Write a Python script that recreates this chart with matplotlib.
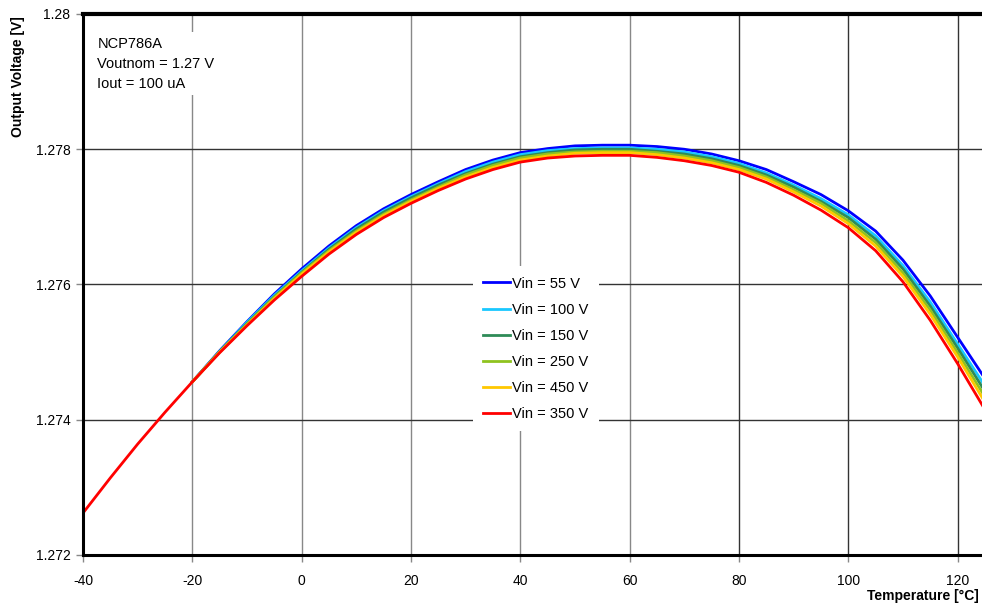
import matplotlib
matplotlib.use("Agg")
import matplotlib.pyplot as plt

plt.rcParams['font.family'] = ['Liberation Sans', 'DejaVu Sans']
plt.rcParams['axes.unicode_minus'] = False

# temperature points (deg C)
temp = [-20, -15, -10, -5, 0, 5, 10, 15, 20, 25, 30, 35, 40, 45, 50, 55, 60, 65, 70, 75,
        80, 85, 90, 95, 100, 105, 110, 115, 120, 125]
temp_red = [-40, -35, -30, -25] + temp

# output voltage for each input voltage (V)
v55 = [1.27456, 1.27502, 1.27545, 1.27586, 1.27623, 1.27657, 1.27687, 1.27712, 1.27733, 1.27752,
       1.27770, 1.27784, 1.27795, 1.27801, 1.27805, 1.27806, 1.27806, 1.27804, 1.27800, 1.27793,
       1.27783, 1.27770, 1.27752, 1.27733, 1.27709, 1.27679, 1.27636, 1.27583, 1.27522, 1.27461]
v100 = [1.27456, 1.27501, 1.27544, 1.27584, 1.27620, 1.27654, 1.27684, 1.27709, 1.27730, 1.27749,
        1.27767, 1.27781, 1.27792, 1.27798, 1.27801, 1.27802, 1.27802, 1.27800, 1.27796, 1.27789,
        1.27779, 1.27765, 1.27747, 1.27727, 1.27703, 1.27672, 1.27628, 1.27574, 1.27512, 1.27450]
v150 = [1.27456, 1.27501, 1.27542, 1.27582, 1.27618, 1.27652, 1.27682, 1.27707, 1.27728, 1.27747,
        1.27764, 1.27778, 1.27789, 1.27795, 1.27799, 1.27800, 1.27800, 1.27797, 1.27793, 1.27786,
        1.27776, 1.27762, 1.27744, 1.27723, 1.27699, 1.27667, 1.27623, 1.27568, 1.27506, 1.27442]
v250 = [1.27456, 1.27500, 1.27541, 1.27581, 1.27617, 1.27650, 1.27679, 1.27704, 1.27725, 1.27744,
        1.27762, 1.27776, 1.27787, 1.27793, 1.27796, 1.27797, 1.27797, 1.27795, 1.27790, 1.27783,
        1.27773, 1.27759, 1.27740, 1.27720, 1.27694, 1.27662, 1.27617, 1.27562, 1.27499, 1.27434]
v450 = [1.27456, 1.27500, 1.27540, 1.27579, 1.27615, 1.27648, 1.27677, 1.27702, 1.27723, 1.27742,
        1.27759, 1.27773, 1.27784, 1.27790, 1.27794, 1.27795, 1.27795, 1.27792, 1.27787, 1.27780,
        1.27770, 1.27756, 1.27737, 1.27716, 1.27690, 1.27657, 1.27612, 1.27556, 1.27493, 1.27426]
v350 = [1.27262, 1.27314, 1.27364, 1.27411,
        1.27456, 1.27499, 1.27539, 1.27577, 1.27612, 1.27645, 1.27674, 1.27699, 1.27720, 1.27739,
        1.27756, 1.27770, 1.27781, 1.27787, 1.27790, 1.27791, 1.27791, 1.27788, 1.27783, 1.27776,
        1.27766, 1.27751, 1.27732, 1.27710, 1.27684, 1.27650, 1.27604, 1.27547, 1.27483, 1.27415]

labels = ["Vin = 55 V", "Vin = 100 V", "Vin = 150 V", "Vin = 250 V", "Vin = 450 V", "Vin = 350 V"]
colors = ["#0000ff", "#19c8ff", "#2e8b57", "#8fc31f", "#ffc800", "#ff0000"]

yticks = [1.272, 1.274, 1.276, 1.278, 1.28]
ytick_labels = ["1.272", "1.274", "1.276", "1.278", "1.28"]
xticks = [-40, -20, 0, 20, 40, 60, 80, 100, 120]

fig = plt.figure(figsize=(9.82, 6.14), dpi=100)
ax = fig.add_axes([0.0845, 0.0961, 0.9185, 0.8811])

series = [v55, v100, v150, v250, v450]
for vals, lab, col in zip(series, labels[:5], colors[:5]):
    ax.plot(temp, vals, color=col, lw=2, label=lab)
ax.plot(temp_red, v350, color=colors[5], lw=2, label=labels[5])

ax.set_xlim(-40, 125)
ax.set_ylim(1.272, 1.28)
ax.set_xticks(xticks)
ax.set_yticks(yticks)
ax.set_yticklabels(ytick_labels)
ax.tick_params(direction='out', length=5, width=1, color='#888888', labelsize=10, pad=4)
ax.tick_params(axis='x', pad=9)

ax.grid(True, color='#333333', lw=1)
for x, gl in zip(xticks, ax.get_xgridlines()):
    if x <= 60:
        gl.set_color('#888888')

for s in ['left', 'bottom']:
    ax.spines[s].set_linewidth(2.2)
ax.spines['top'].set_linewidth(3)
ax.spines['right'].set_visible(False)

ax.text(0.016, 0.958, "NCP786A\nVoutnom = 1.27 V\nIout = 100 uA", transform=ax.transAxes,
        fontsize=10.5, va='top', ha='left', linespacing=1.55,
        bbox=dict(facecolor='white', edgecolor='none', pad=3))

leg = ax.legend(loc='upper left', bbox_to_anchor=(0.424, 0.547), frameon=True, fontsize=10.5,
                handlelength=1.85, handletextpad=0.15, labelspacing=0.83, borderpad=0.7,
                fancybox=False)
leg.get_frame().set_edgecolor('none')
leg.get_frame().set_facecolor('white')
leg.get_frame().set_alpha(1)

fig.text(0.018, 0.875, "Output Voltage [V]", rotation=90, fontsize=10, fontweight='bold',
         ha='center', va='center')
fig.text(0.997, 0.018, "Temperature [°C]", fontsize=10, fontweight='bold', ha='right', va='bottom')

fig.savefig("out.png", dpi=100)
